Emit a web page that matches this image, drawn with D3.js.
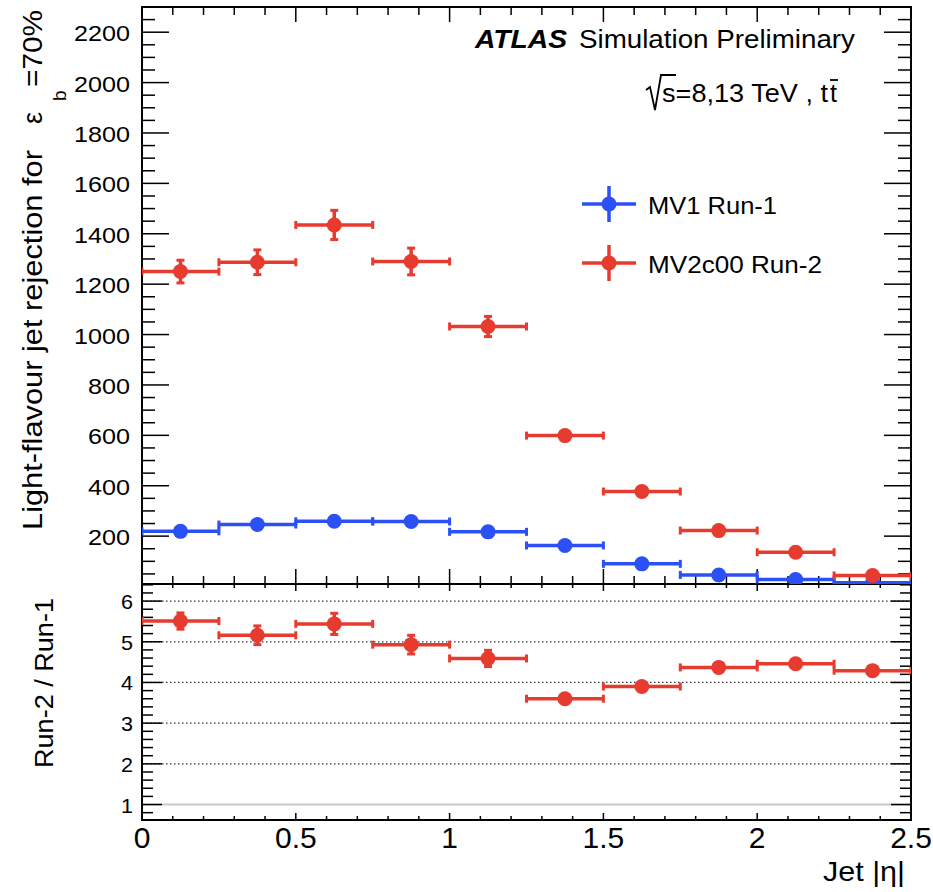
<!DOCTYPE html>
<html>
<head>
<meta charset="utf-8">
<script src="https://cdn.jsdelivr.net/npm/d3@7"></script>
<style>
  body { margin: 0; background: #fff; }
  text { font-family: "Liberation Sans", Arial, Helvetica, sans-serif; fill: #000; }
</style>
</head>
<body>
<div id="vis"></div>
<script>
// bins in jet |eta|
var binLo = [0, 0.25, 0.5, 0.75, 1.0, 1.25, 1.5, 1.75, 2.0, 2.25];
var binHi = [0.25, 0.5, 0.75, 1.0, 1.25, 1.5, 1.75, 2.0, 2.25, 2.5];
var binMid = [0.125, 0.375, 0.625, 0.875, 1.125, 1.375, 1.625, 1.875, 2.125, 2.375];

// light-flavour rejection at eps_b = 70%
var mv1Run1 = [219, 246, 259, 258, 217, 163, 90, 46, 28, 15];
var mv1Err = [3, 3, 4, 4, 3, 2, 1, 1, 1, 1];
var mv2Run2 = [1250, 1287, 1435, 1290, 1032, 599, 377, 222, 136, 44];
var mv2Err = [45, 49, 58, 53, 40, 12, 8, 5, 3, 1];

// ratio Run-2 / Run-1
var ratio = [5.51, 5.16, 5.44, 4.93, 4.59, 3.60, 3.90, 4.37, 4.46, 4.29];
var ratioErr = [0.20, 0.23, 0.26, 0.23, 0.20, 0.05, 0.05, 0.05, 0.05, 0.05];

var xTicks = [0, 0.5, 1, 1.5, 2, 2.5];
var yTicksTop = [200, 400, 600, 800, 1000, 1200, 1400, 1600, 1800, 2000, 2200];
var yTicksRatio = [1, 2, 3, 4, 5, 6];
var ratioGrid = [2, 3, 4, 5, 6];

var red = "#e63b2e", blue = "#2b50f5";
var W = 933, H = 892;
var L = 142, R = 911, T = 7, M = 584, B = 820;

var svg = d3.select("#vis").append("svg").attr("width", W).attr("height", H);

var x = d3.scaleLinear().domain([0, 2.5]).range([L, R]);
var yTop = d3.scaleLinear().domain([10, 2300]).range([M, T]);
var yRat = d3.scaleLinear().domain([0.62, 6.42]).range([B, M]);

var defs = svg.append("defs");
defs.append("clipPath").attr("id", "clipTop").append("rect")
    .attr("x", L).attr("y", T).attr("width", R - L).attr("height", M - T);
defs.append("clipPath").attr("id", "clipRat").append("rect")
    .attr("x", L).attr("y", M).attr("width", R - L).attr("height", B - M);

// text helper, width forced to what the picture shows
function label(g, tx, ty, str, size, opts) {
    opts = opts || {};
    var t = g.append("text")
        .attr("transform", "translate(" + tx + "," + ty + ")" + (opts.rot ? " rotate(" + opts.rot + ")" : ""))
        .attr("text-anchor", opts.anchor || "start")
        .style("font-size", size + "px")
        .text(str);
    if (opts.len) t.attr("textLength", opts.len).attr("lengthAdjust", "spacingAndGlyphs");
    if (opts.weight) t.style("font-weight", opts.weight);
    if (opts.italic) t.style("font-style", "italic");
    return t;
}

// ratio grid
var grid = svg.append("g");
grid.selectAll("line.g").data(ratioGrid).enter().append("line")
    .attr("x1", L).attr("x2", R)
    .attr("y1", d => yRat(d)).attr("y2", d => yRat(d))
    .attr("stroke", "#333").attr("stroke-width", 1.3).attr("stroke-dasharray", "1.5,2.5");
grid.append("line").attr("x1", L).attr("x2", R)
    .attr("y1", yRat(1)).attr("y2", yRat(1))
    .attr("stroke", "#c8c8c8").attr("stroke-width", 2);

// ticks (ROOT style, drawn inward)
function xTickMarks(g, y0, dir, majLen, minLen) {
    var minors = d3.range(0, 2.5001, 0.1);
    g.selectAll(null).data(minors).enter().append("line")
        .attr("x1", d => x(d)).attr("x2", d => x(d))
        .attr("y1", y0)
        .attr("y2", d => y0 + dir * (Math.abs(d * 2 - Math.round(d * 2)) < 1e-6 ? majLen : minLen))
        .attr("stroke", "#000").attr("stroke-width", 1.5);
}
function yTickMarks(g, scale, minors, isMajor, majLen, minLen) {
    [[L, 1], [R, -1]].forEach(function (s) {
        g.selectAll(null).data(minors).enter().append("line")
            .attr("y1", d => scale(d)).attr("y2", d => scale(d))
            .attr("x1", s[0])
            .attr("x2", d => s[0] + s[1] * (isMajor(d) ? majLen : minLen))
            .attr("stroke", "#000").attr("stroke-width", 1.5);
    });
}
var ticks = svg.append("g");
xTickMarks(ticks, T, 1, 15, 8);
xTickMarks(ticks, M, -1, 15, 8);
xTickMarks(ticks, M, 1, 7, 4);
xTickMarks(ticks, B, -1, 7, 4);
yTickMarks(ticks, yTop, d3.range(50, 2300, 50), d => d % 200 === 0, 27, 13);
yTickMarks(ticks, yRat, d3.range(0.8, 6.41, 0.2).map(d => Math.round(d * 10) / 10),
    d => Math.abs(d - Math.round(d)) < 1e-6, 20, 11);

// frames
svg.append("rect").attr("x", L).attr("y", T).attr("width", R - L).attr("height", M - T)
    .attr("fill", "none").attr("stroke", "#000").attr("stroke-width", 2);
svg.append("rect").attr("x", L).attr("y", M).attr("width", R - L).attr("height", B - M)
    .attr("fill", "none").attr("stroke", "#000").attr("stroke-width", 2);

// tick labels
var tl = svg.append("g");
yTicksTop.forEach(function (d) {
    label(tl, 130, yTop(d) + 9, d, 22, { anchor: "end", len: String(d).length * 14 });
});
yTicksRatio.forEach(function (d) {
    label(tl, 133, yRat(d) + 8, d, 21, { anchor: "end", len: 12 });
});
xTicks.forEach(function (d) {
    label(tl, x(d), 848, d, 30, { anchor: "middle" });
});

// axis titles
var at = svg.append("g");
label(at, 905, 881, "Jet |η|", 28, { anchor: "end", len: 82 });
label(at, 42, 530, "Light-flavour jet rejection for", 27, { rot: -90, len: 380 });
label(at, 42, 124, "ε", 27, { rot: -90 });
label(at, 66, 101, "b", 19, { rot: -90 });
label(at, 42, 87, "=70%", 27, { rot: -90, len: 77 });
label(at, 53, 683, "Run-2 / Run-1", 26, { rot: -90, anchor: "middle", len: 170 });

// ATLAS labels
var al = svg.append("g");
label(al, 475, 48, "ATLAS", 26, { weight: "bold", italic: true, len: 92 });
label(al, 579, 48, "Simulation Preliminary", 26, { len: 276 });
label(al, 662, 102, "s=8,13 TeV , t", 25, { len: 166 });
label(al, 830, 102, "t", 25);
al.append("path").attr("d", "M646,90 L650,87 L655,110 L661,75 L676,75")
    .attr("fill", "none").attr("stroke", "#000").attr("stroke-width", 1.8);
al.append("line").attr("x1", 830).attr("x2", 838).attr("y1", 80).attr("y2", 80)
    .attr("stroke", "#000").attr("stroke-width", 1.8);

// data series drawing
function drawSeries(g, yScale, vals, errs, color) {
    var rows = vals.map((v, i) => ({ lo: binLo[i], hi: binHi[i], mid: binMid[i], v: v, e: errs[i] }));
    var sel = g.selectAll(null).data(rows).enter().append("g");
    sel.append("line")
        .attr("x1", d => x(d.lo)).attr("x2", d => x(d.hi))
        .attr("y1", d => yScale(d.v)).attr("y2", d => yScale(d.v))
        .attr("stroke", color).attr("stroke-width", 3.5);
    [d => x(d.lo), d => x(d.hi)].forEach(function (fx) {
        sel.append("line")
            .attr("x1", fx).attr("x2", fx)
            .attr("y1", d => yScale(d.v) - 4).attr("y2", d => yScale(d.v) + 4)
            .attr("stroke", color).attr("stroke-width", 3);
    });
    sel.append("line")
        .attr("x1", d => x(d.mid)).attr("x2", d => x(d.mid))
        .attr("y1", d => yScale(d.v - d.e)).attr("y2", d => yScale(d.v + d.e))
        .attr("stroke", color).attr("stroke-width", 3.5);
    [d => yScale(d.v - d.e), d => yScale(d.v + d.e)].forEach(function (fy) {
        sel.filter(d => Math.abs(yScale(d.v - d.e) - yScale(d.v + d.e)) > 14)
            .append("line")
            .attr("x1", d => x(d.mid) - 4).attr("x2", d => x(d.mid) + 4)
            .attr("y1", fy).attr("y2", fy)
            .attr("stroke", color).attr("stroke-width", 3);
    });
    sel.append("circle")
        .attr("cx", d => x(d.mid)).attr("cy", d => yScale(d.v))
        .attr("r", 7.5).attr("fill", color);
}
var gTop = svg.append("g").attr("clip-path", "url(#clipTop)");
drawSeries(gTop, yTop, mv1Run1, mv1Err, blue);
drawSeries(gTop, yTop, mv2Run2, mv2Err, red);
var gRat = svg.append("g").attr("clip-path", "url(#clipRat)");
drawSeries(gRat, yRat, ratio, ratioErr, red);

// legend
var legend = [{ label: "MV1 Run-1", color: blue, y: 204, len: 129 }, { label: "MV2c00 Run-2", color: red, y: 263, len: 174 }];
var lg = svg.append("g").selectAll("g").data(legend).enter().append("g");
lg.append("line").attr("x1", 582).attr("x2", 636).attr("y1", d => d.y).attr("y2", d => d.y)
    .attr("stroke", d => d.color).attr("stroke-width", 3.5);
lg.append("line").attr("x1", 609).attr("x2", 609).attr("y1", d => d.y - 18).attr("y2", d => d.y + 18)
    .attr("stroke", d => d.color).attr("stroke-width", 3.5);
lg.append("circle").attr("cx", 609).attr("cy", d => d.y).attr("r", 7.5).attr("fill", d => d.color);
lg.each(function (d) { label(d3.select(this), 648, d.y + 10, d.label, 24, { len: d.len }); });
</script>
</body>
</html>
